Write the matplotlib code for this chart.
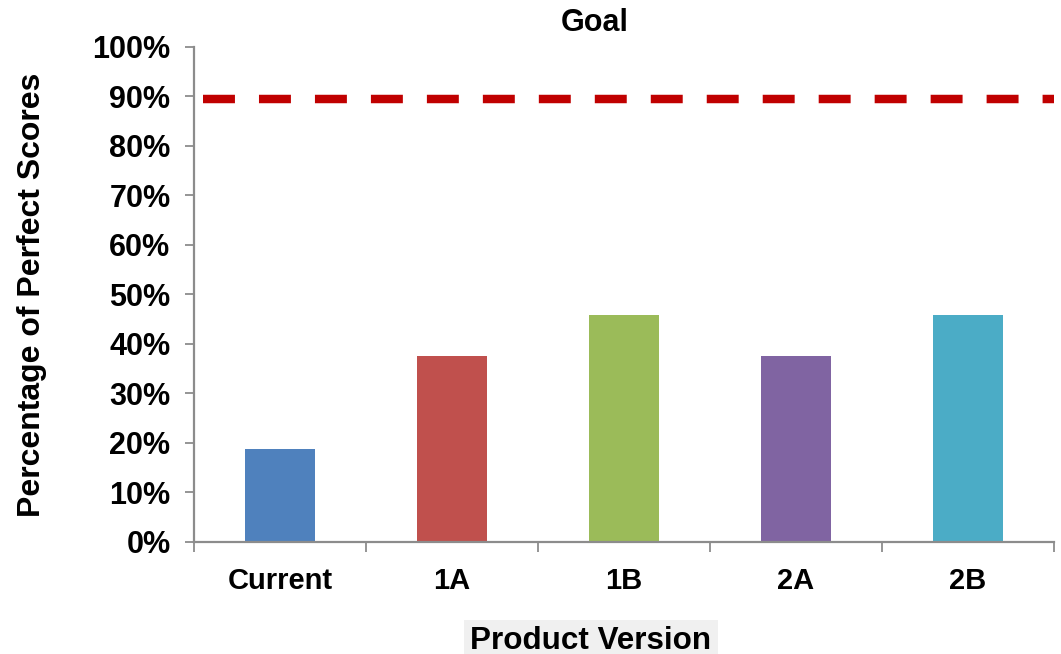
import matplotlib
matplotlib.use("Agg")
import matplotlib.pyplot as plt
from matplotlib.ticker import PercentFormatter, FixedLocator

plt.rcParams['font.family'] = ['Liberation Sans', 'DejaVu Sans']

versions = ["Current", "1A", "1B", "2A", "2B"]
perfect_share = [18.75, 37.5, 45.8, 37.5, 45.8]
goal = 89.4
bar_colors = ["#4F81BD", "#C0504D", "#9BBB59", "#8064A2", "#4BACC6"]

W, H = 1061, 654
fig = plt.figure(figsize=(W / 100, H / 100), dpi=100)
left, right, bottom_px, top_px = 194, 1054, 541.7, 47
ax = fig.add_axes([left / W, (H - bottom_px) / H,
                   (right - left) / W, (bottom_px - top_px) / H])

x = list(range(len(versions)))
ax.bar(x, perfect_share, width=0.407, color=bar_colors, zorder=2)

lw = 6.1
ax.plot([-0.45, len(versions) - 0.5], [goal, goal], color="#C00000", lw=lw,
        dashes=(23 / lw, 17.3 / lw), solid_capstyle="butt",
        dash_capstyle="butt", zorder=3, clip_on=False)

ax.set_xlim(-0.5, len(versions) - 0.5)
ax.set_ylim(0, 100)

spine_c = "#8C8C8C"
for s in ("top", "right"):
    ax.spines[s].set_visible(False)
for s in ("left", "bottom"):
    ax.spines[s].set_color(spine_c)
    ax.spines[s].set_linewidth(1.6)

ax.set_yticks(range(0, 101, 10))
ax.yaxis.set_major_formatter(PercentFormatter(decimals=0))
ax.tick_params(axis="y", length=6.5, width=1.3, color=spine_c, pad=10.5,
               labelsize=22)
for t in ax.get_yticklabels():
    t.set_fontweight("bold")

ax.set_xticks(x)
ax.set_xticklabels(versions, fontsize=21, fontweight="bold")
ax.tick_params(axis="x", which="major", length=0, pad=18)
ax.xaxis.set_minor_locator(FixedLocator([i - 0.5 for i in range(len(versions) + 1)]))
ax.tick_params(axis="x", which="minor", length=7, width=1.3, color=spine_c)

ax.set_ylabel("Percentage of Perfect Scores", fontsize=23, fontweight="bold")
ax.yaxis.set_label_coords(-(194 - 47) / (right - left), 0.5)
fig.text(591 / W, 1 - 641 / H, "Product Version", fontsize=22.6,
         fontweight="bold", ha="center", va="center",
         bbox=dict(boxstyle="square,pad=0.2", facecolor="#F0F0F0",
                   edgecolor="none"))
fig.text(595 / W, 1 - 23 / H, "Goal", fontsize=22, fontweight="bold",
         ha="center", va="center")

fig.savefig("out.png", dpi=100)
